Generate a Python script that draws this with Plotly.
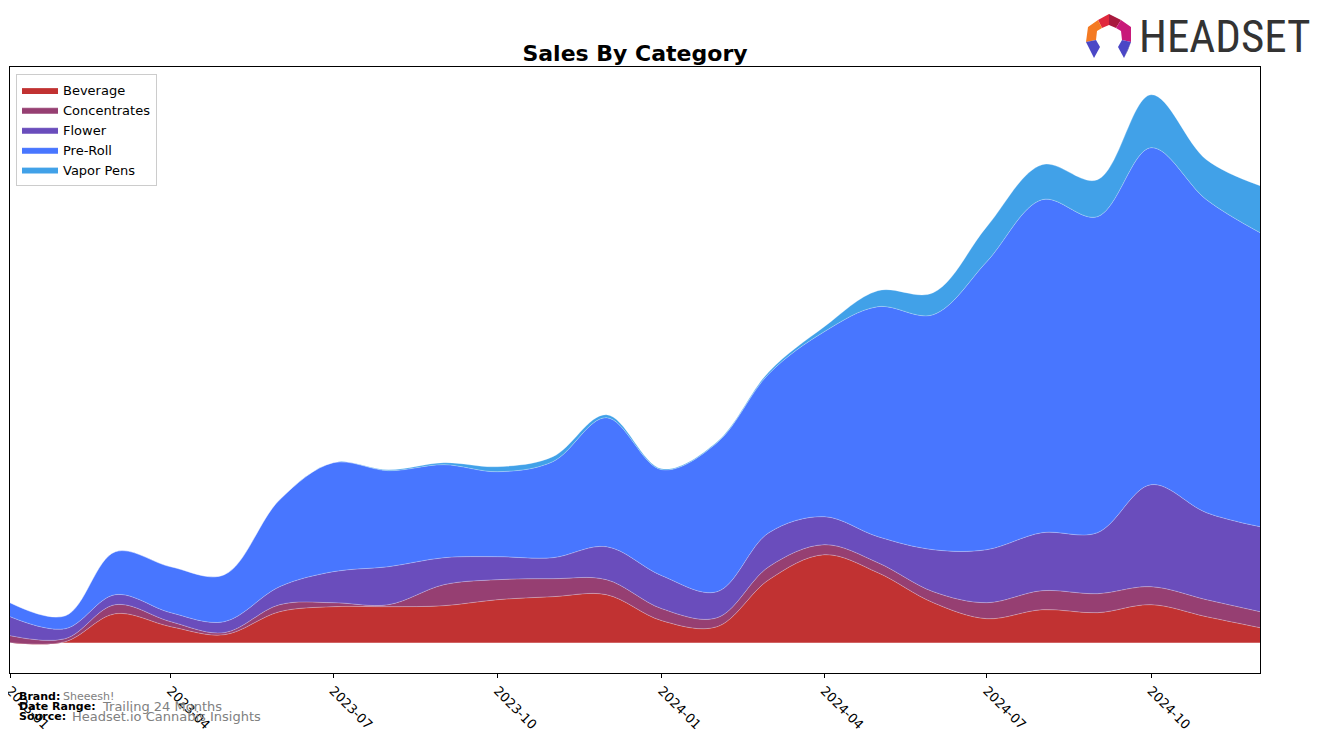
import plotly.graph_objects as go

months = ["2023-01", "2023-02", "2023-03", "2023-04", "2023-05", "2023-06",
          "2023-07", "2023-08", "2023-09", "2023-10", "2023-11", "2023-12",
          "2024-01", "2024-02", "2024-03", "2024-04", "2024-05", "2024-06",
          "2024-07", "2024-08", "2024-09", "2024-10", "2024-11", "2024-12"]

beverage =     [0, 1, 29, 16, 8, 31, 36, 36, 37, 43, 46, 48, 22, 16, 63, 88, 70, 40, 24, 33, 30, 38, 26, 15]
concentrates = [7, 3, 9, 5, 2, 7, 4, 2, 21, 20, 18, 15, 12, 9, 13, 10, 10, 11, 16, 19, 19, 18, 17, 16]
flower =       [19, 10, 10, 9, 11, 18, 31, 38, 27, 23, 21, 33, 33, 26, 34, 28, 26, 42, 53, 58, 61, 102, 87, 85]
pre_roll =     [14, 13, 43, 46, 47, 87, 109, 96, 93, 85, 96, 129, 106, 149, 159, 185, 230, 235, 288, 333, 316, 337, 313, 294]
vapor_pens =   [0, 0, 0, 0, 0, 0, 0, 1, 2, 5, 5, 3, 1, 1, 2, 5, 16, 22, 35, 35, 37, 53, 40, 47]

tick_vals = ["2023-01", "2023-04", "2023-07", "2023-10", "2024-01", "2024-04", "2024-07", "2024-10"]

series = [
    ("Beverage", beverage, "#C13232"),
    ("Concentrates", concentrates, "#963F72"),
    ("Flower", flower, "#6A4DBC"),
    ("Pre-Roll", pre_roll, "#4876FF"),
    ("Vapor Pens", vapor_pens, "#41A1E8"),
]

dates = [m + "-01" for m in months]

fig = go.Figure()
for name, vals, col in series:
    fig.add_trace(go.Scatter(
        x=dates, y=[v * 1000 for v in vals], name=name, mode="lines",
        stackgroup="one", fillcolor=col,
        line=dict(color="rgba(255,255,255,0.35)", width=0.8, shape="spline", smoothing=1.0),
    ))

# page body has an 8px margin: design in screen pixels, shift by OFF
OFF = 8
W, H = 1324, 743
L, R, T, B = 10, 1260, 67, 673  # screen pixels of plot area

def px(x):
    return (x - L) / (R - L)

def py(y):
    return (B - y) / (B - T)

fig.update_layout(
    width=W, height=H,
    margin=dict(l=L - OFF, r=W - (R - OFF), t=T - OFF, b=H - (B - OFF), autoexpand=False),
    paper_bgcolor="white", plot_bgcolor="white",
    font=dict(family="DejaVu Sans", size=13, color="black"),
    title=dict(text="<b>Sales By Category</b>", x=0.5, xref="paper", xanchor="center",
               y=1 - (53 - OFF) / H, yref="container", yanchor="middle",
               font=dict(size=22, family="DejaVu Sans", color="black")),
    showlegend=True,
    legend=dict(x=px(16), y=py(74), xanchor="left", yanchor="top",
                bgcolor="white", bordercolor="#cccccc", borderwidth=1,
                font=dict(size=13, family="DejaVu Sans"), traceorder="normal",
                tracegroupgap=2, itemwidth=36),
    xaxis=dict(
        type="date", automargin=False,
        range=[dates[0], dates[-1]],
        tickvals=[t + "-01" for t in tick_vals], ticktext=tick_vals,
        tickangle=45, ticks="outside", ticklen=4, tickcolor="black",
        ticklabeloverflow="allow",
        showgrid=False, zeroline=False,
        showline=True, linecolor="black", linewidth=1, mirror=True,
        tickfont=dict(size=13, family="DejaVu Sans"),
    ),
    yaxis=dict(
        automargin=False,
        range=[-30300, 575700], showticklabels=False, ticks="",
        showgrid=False, zeroline=False,
        showline=True, linecolor="black", linewidth=1, mirror=True,
    ),
)

# Footer annotations
def ann(text, x, y, size, color="black", bold=False):
    fig.add_annotation(
        text=("<b>%s</b>" % text) if bold else text,
        x=px(x), y=py(y), xref="paper", yref="paper",
        xanchor="left", yanchor="middle", showarrow=False,
        font=dict(size=size, color=color, family="DejaVu Sans"),
    )

ann("Brand:", 17, 696, 11, bold=True)
ann("Sheeesh!", 61, 696, 11, color="gray")
ann("Date Range:", 17, 706, 11, bold=True)
ann("Trailing 24 Months", 100, 706, 13, color="gray")
ann("Source:", 17, 716, 11, bold=True)
ann("Headset.io Cannabis Insights", 70, 716, 13, color="gray")

# HEADSET logo text
fig.add_annotation(
    text="HEADSET", x=px(1137), y=py(37), xref="paper", yref="paper",
    xanchor="left", yanchor="middle", showarrow=False,
    font=dict(size=45, color="#333333", family="Liberation Sans Narrow, Roboto Condensed, DejaVu Sans Condensed, Liberation Sans"),
)

# Logo icon (polygons, screen pixel coordinates converted to paper)
def poly(points, color):
    d = "M " + " L ".join("%f,%f" % (px(x), py(y)) for x, y in points) + " Z"
    fig.add_shape(type="path", path=d, xref="paper", yref="paper",
                  fillcolor=color, line=dict(width=0), layer="above")

poly([(1098, 20), (1109, 14), (1109, 25), (1102, 28)], "#E0283C")
poly([(1109, 14), (1121, 20), (1116, 28), (1109, 25)], "#A8193E")
poly([(1121, 20), (1131, 27), (1131, 42), (1122, 40), (1121, 31), (1116, 28)], "#C81A7A")
poly([(1098, 20), (1102, 28), (1097, 31), (1096, 40), (1086, 42), (1088, 27)], "#F47A22")
poly([(1086, 42), (1096, 40), (1100, 47), (1094, 58)], "#4B47C6")
poly([(1086, 42), (1094, 58), (1090, 50)], "#2E2E8C")
poly([(1131, 42), (1122, 40), (1118, 47), (1124, 58)], "#4B47C6")
poly([(1131, 42), (1124, 58), (1128, 50)], "#2E2E8C")

fig.write_html("out.html")
